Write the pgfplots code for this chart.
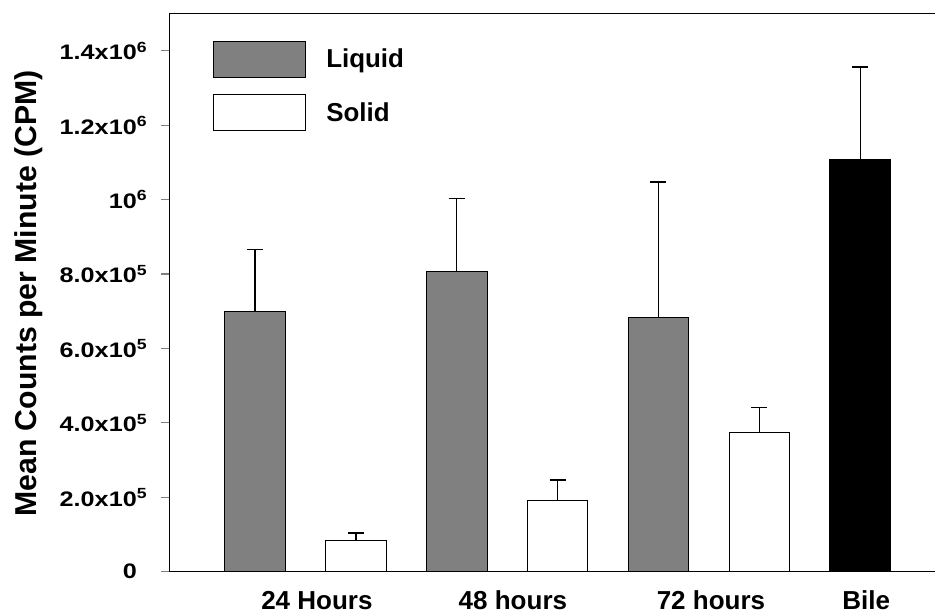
\documentclass[border=0pt]{standalone}
\usepackage{pgfplots}
\pgfplotsset{compat=1.18}
\usepackage{fontspec}
\setmainfont{Liberation Sans}
\newfontfamily\tickfont{Liberation Sans}[FakeStretch=1.2]
\definecolor{liqgray}{RGB}{128,128,128}
\begin{document}
\begin{tikzpicture}
\begin{axis}[
  scale only axis,
  width=766bp, height=558bp,
  xmin=0.1506, xmax=7.744,
  ymin=0, ymax=1.5e6,
  scaled y ticks=false,
  axis x line*=box,
  axis y line*=left,
  axis line style={line width=1.5bp},
  tick align=outside,
  major tick length=8bp,
  xtick={1.614,3.557,5.52,7.06},
  xticklabels={24 Hours,48 hours,72 hours,Bile},
  xtick style={draw=none},
  xticklabel style={font=\fontsize{26bp}{30bp}\selectfont\bfseries, anchor=base, yshift=-30bp, inner sep=0pt},
  ytick={0,2e5,4e5,6e5,8e5,1e6,1.2e6,1.4e6},
  yticklabels={0\hphantom{\textsuperscript{6}},2.0x10\textsuperscript{5},4.0x10\textsuperscript{5},6.0x10\textsuperscript{5},8.0x10\textsuperscript{5},10\textsuperscript{6},1.2x10\textsuperscript{6},1.4x10\textsuperscript{6}},
  yticklabel style={font=\tickfont\fontsize{21bp}{25bp}\selectfont\bfseries, anchor=east, inner sep=0pt, xshift=-14bp},
  ytick style={line width=1.2bp},
  every axis y label/.style={at={(rel axis cs:-0.1838,0.4986)}, rotate=90, anchor=center},
  ylabel={\fontsize{30.2bp}{34bp}\selectfont\bfseries Mean Counts per Minute (CPM)},
  legend style={at={(rel axis cs:0.0574,0.9516)}, anchor=north west, draw=none, fill=none,
    inner sep=0pt, outer sep=0pt, row sep=16.6bp, column sep=20bp,
    nodes={inner sep=0pt, font=\fontsize{25.9bp}{30bp}\selectfont\bfseries}},
  legend cell align=left,
  mybar/.style={ybar, bar width=60.7bp, bar shift=0pt, draw=black, line width=1bp,
    legend image code/.code={\draw[##1, line width=1bp] (0bp,-18bp) rectangle (92bp,18bp);},
    error bars/y dir=plus, error bars/y explicit,
    error bars/error mark=|,
    error bars/error bar style={line width=1.4bp, black},
    error bars/error mark options={line width=1.4bp, mark size=8bp, black}},
]
\addplot[mybar, fill=liqgray] coordinates {(1,700600) +- (0,165400) (3,808000) +- (0,196000) (5,683000) +- (0,365000)};
\addlegendentry{Liquid}
\addplot[mybar, fill=white] coordinates {(2,83000) +- (0,21000) (4,191000) +- (0,56000) (6,375000) +- (0,67000)};
\addlegendentry{Solid}
\addplot[mybar, fill=black, forget plot] coordinates {(7,1108000) +- (0,249000)};
\end{axis}
\pgfresetboundingbox
\path (current axis.south west) ++(-169.3bp,-42.3bp) rectangle ++(936bp,614bp);
\end{tikzpicture}
\end{document}
